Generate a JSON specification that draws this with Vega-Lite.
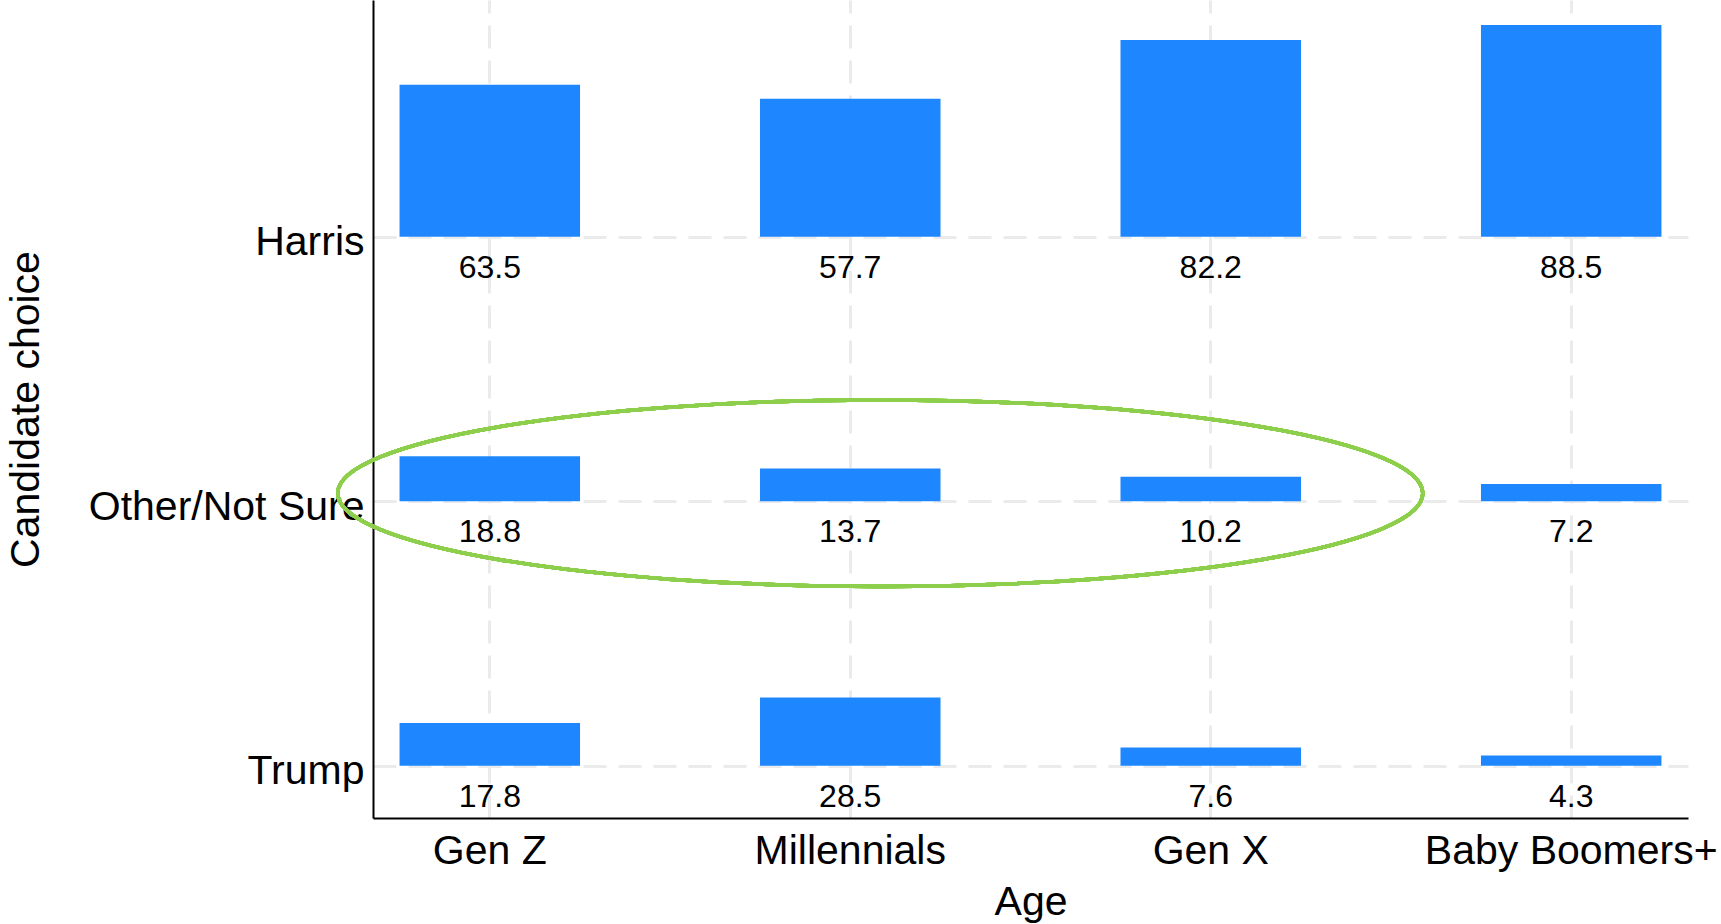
{
  "$schema": "https://vega.github.io/schema/vega-lite/v6.json",
  "width": 1315,
  "height": 818,
  "autosize": {"type": "none"},
  "padding": {"left": 373, "top": 0, "right": 33, "bottom": 106},
  "background": "white",
  "config": {"view": {"stroke": null}, "font": "Liberation Sans"},
  "data": {
    "values": [
      {"Age": "Gen Z", "Candidate": "Harris", "Percent": 63.5},
      {"Age": "Gen Z", "Candidate": "Other/Not Sure", "Percent": 18.8},
      {"Age": "Gen Z", "Candidate": "Trump", "Percent": 17.8},
      {"Age": "Millennials", "Candidate": "Harris", "Percent": 57.7},
      {"Age": "Millennials", "Candidate": "Other/Not Sure", "Percent": 13.7},
      {"Age": "Millennials", "Candidate": "Trump", "Percent": 28.5},
      {"Age": "Gen X", "Candidate": "Harris", "Percent": 82.2},
      {"Age": "Gen X", "Candidate": "Other/Not Sure", "Percent": 10.2},
      {"Age": "Gen X", "Candidate": "Trump", "Percent": 7.6},
      {"Age": "Baby Boomers+", "Candidate": "Harris", "Percent": 88.5},
      {"Age": "Baby Boomers+", "Candidate": "Other/Not Sure", "Percent": 7.2},
      {"Age": "Baby Boomers+", "Candidate": "Trump", "Percent": 4.3}
    ]
  },
  "encoding": {
    "x": {
      "field": "Age",
      "type": "nominal",
      "sort": ["Gen Z", "Millennials", "Gen X", "Baby Boomers+"],
      "scale": {"type": "band", "paddingInner": 0.5, "paddingOuter": 0.074},
      "axis": {
        "title": "Age",
        "titleFontSize": 41,
        "titleFontWeight": "normal",
        "titleColor": "black",
        "titlePadding": 11,
        "labelFontSize": 41,
        "labelColor": "black",
        "labelAngle": 0,
        "labelPadding": 13,
        "labelLimit": 0,
        "labelOverlap": false,
        "labelBound": false,
        "ticks": false,
        "tickSize": 0,
        "domainColor": "black",
        "domainWidth": 2,
        "grid": true,
        "gridColor": "#ebebeb",
        "gridWidth": 3,
        "gridDash": [23, 12],
        "bandPosition": 0.5
      }
    },
    "y": {
      "field": "Candidate",
      "type": "nominal",
      "sort": ["Harris", "Other/Not Sure", "Trump"],
      "scale": {"type": "point", "padding": 0.5463, "align": 0.819},
      "axis": {
        "title": "Candidate choice",
        "titleFontSize": 41,
        "titleFontWeight": "normal",
        "titleColor": "black",
        "titlePadding": 125.5,
        "labelFontSize": 41,
        "labelColor": "black",
        "labelPadding": 9,
        "labelBaseline": "middle",
        "labelOffset": 6,
        "labelLimit": 0,
        "labelOverlap": false,
        "ticks": false,
        "tickSize": 0,
        "domainColor": "black",
        "domainWidth": 2,
        "grid": true,
        "gridColor": "#ebebeb",
        "gridWidth": 3,
        "gridDash": [23, 12]
      }
    }
  },
  "layer": [
    {
      "mark": {"type": "tick", "orient": "vertical", "thickness": 180.5, "color": "#1e87ff", "opacity": 1},
      "encoding": {
        "yOffset": {"field": "Percent", "type": "quantitative", "scale": {"domain": [0, 100], "range": [0, -119.6]}},
        "size": {"field": "Percent", "type": "quantitative", "scale": {"domain": [0, 100], "range": [0, 239.2]}, "legend": null}
      }
    },
    {
      "mark": {"type": "text", "fontSize": 32, "baseline": "alphabetic", "dy": 41, "color": "black"},
      "encoding": {
        "text": {"field": "Percent", "type": "quantitative", "format": ".1f"}
      }
    },
    {
      "mark": {
        "type": "point",
        "shape": "M -1 0 A 1 0.172 0 1 1 1 0 A 1 0.172 0 1 1 -1 0 Z",
        "size": 1177225,
        "filled": false,
        "stroke": "#8dcf4c",
        "strokeWidth": 3.5,
        "opacity": 1,
        "xOffset": 30,
        "yOffset": -8
      },
      "encoding": {
        "x": {"datum": "Millennials", "type": "nominal"},
        "y": {"datum": "Other/Not Sure", "type": "nominal"}
      }
    }
  ]
}
